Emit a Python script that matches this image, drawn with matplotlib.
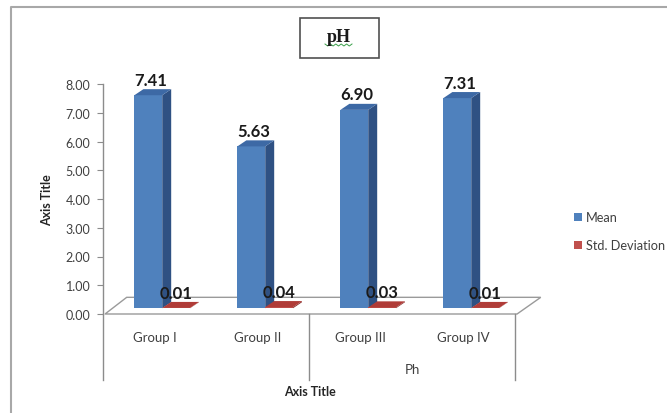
import numpy as np
import matplotlib.pyplot as plt
from matplotlib.patches import Polygon, Rectangle

plt.rcParams['font.family'] = ['Lato', 'DejaVu Sans']

# pH results per group
groups = ["Group I", "Group II", "Group III", "Group IV"]
mean_vals = [7.41, 5.63, 6.90, 7.31]
std_vals = [0.01, 0.04, 0.03, 0.01]
yticks = [0, 1, 2, 3, 4, 5, 6, 7, 8]

W, H = 667, 414
fig = plt.figure(figsize=(W / 100, H / 100), dpi=100)
fig.patch.set_facecolor("white")

def fx(px):
    return px / W

def fy(py):
    return 1 - py / H

# plot region in pixels: x 103..515, y 315 (0) .. 85 (8)
ax = fig.add_axes([fx(103), fy(315), fx(515 - 103), (315 - 85) / H])
ax.set_xlim(0, 4)
ax.set_ylim(0, 8)
ax.set_facecolor("none")
for s in ["top", "right", "bottom"]:
    ax.spines[s].set_visible(False)
ax.spines["left"].set_color("#8c8c8c")
ax.spines["left"].set_linewidth(1.0)
ax.set_yticks(yticks)
ax.set_yticklabels([f"{v:.2f}" for v in yticks])
ax.tick_params(axis="y", colors="#8c8c8c", labelcolor="#404040", labelsize=9,
               length=4, direction="out", pad=5)
ax.set_xticks([])

# floor of the 3D plot
floor = Polygon([(0.02, 0), (0.23, 0.58), (4.25, 0.58), (4.02, 0)], closed=True,
                facecolor="white", edgecolor="#9a9a9a", lw=1.0, clip_on=False, zorder=1)
ax.add_patch(floor)

base = 0.2
bw = 0.27
dx, dy = 0.087, 0.21


def bar3d(x0, h, front, side, top):
    x1 = x0 + bw
    t = base + h
    ax.add_patch(Rectangle((x0, base), bw, h, facecolor=front, edgecolor="none",
                           clip_on=False, zorder=3))
    ax.add_patch(Polygon([(x1, base), (x1 + dx, base + dy), (x1 + dx, t + dy), (x1, t)],
                         closed=True, facecolor=side, edgecolor="none",
                         clip_on=False, zorder=3))
    ax.add_patch(Polygon([(x0, t), (x0 + dx, t + dy), (x1 + dx, t + dy), (x1, t)],
                         closed=True, facecolor=top, edgecolor="none",
                         clip_on=False, zorder=3))


for i, (m, s) in enumerate(zip(mean_vals, std_vals)):
    xb = i + 0.305
    xr = xb + bw
    bar3d(xb, m, "#4f81bd", "#2f5183", "#3d69a5")
    bar3d(xr, s, "#c0504d", "#8a2f2c", "#b03c38")
    ax.annotate(f"{m:.2f}", (xb + bw / 2 + 0.02, base + m + dy), xytext=(0, 1),
                textcoords="offset points", ha="center", va="bottom",
                fontsize=12, fontweight="bold", color="#1a1a1a", zorder=5,
                annotation_clip=False)
    ax.annotate(f"{s:.2f}", (xr + bw / 2, base + s + dy), xytext=(0, 1),
                textcoords="offset points", ha="center", va="bottom",
                fontsize=12, fontweight="bold", color="#1a1a1a", zorder=5,
                annotation_clip=False)

# category axis below the floor
ax_col = "#8c8c8c"
for xv in [0, 2, 4]:
    ax.plot([xv, xv], [0, -2.3], color=ax_col, lw=1.0, clip_on=False, zorder=2)
for i, g in enumerate(groups):
    ax.text(i + 0.5, -0.8, g, ha="center", va="center", fontsize=9.5,
            color="#404040", clip_on=False)
ax.text(3.0, -1.9, "Ph", ha="center", va="center", fontsize=9.5, color="#404040")

fig.text(fx(310), fy(392), "Axis Title", ha="center", va="center", fontsize=9,
         fontweight="bold", color="#262626")
fig.text(fx(47), fy(200), "Axis Title", ha="center", va="center", fontsize=9,
         fontweight="bold", color="#262626", rotation=90)

# title box
fig.patches.append(Rectangle((fx(300), fy(59)), fx(79), 40 / H, transform=fig.transFigure,
                             facecolor="white", edgecolor="#505050", lw=1.2))
fig.text(fx(339), fy(38), "pH", ha="center", va="center", fontsize=13,
         fontweight="bold", family="Liberation Serif", color="#1a1a1a")
sq_x = np.linspace(325, 352, 11)
sq_y = np.where(np.arange(11) % 2 == 0, 45, 47)
fig.lines.append(plt.Line2D(fx(sq_x), fy(sq_y), transform=fig.transFigure,
                            color="#3aa04a", lw=0.7))

# legend
fig.patches.append(Rectangle((fx(574), fy(222)), fx(8), 8 / H, transform=fig.transFigure,
                             facecolor="#4f81bd", edgecolor="none"))
fig.text(fx(586), fy(218), "Mean", ha="left", va="center", fontsize=9.2, color="#404040")
fig.patches.append(Rectangle((fx(574), fy(250)), fx(8), 8 / H, transform=fig.transFigure,
                             facecolor="#c0504d", edgecolor="none"))
fig.text(fx(586), fy(246), "Std. Deviation", ha="left", va="center", fontsize=9.2,
         color="#404040")

# outer chart border (only left and top edges fall inside the image)
fig.lines.append(plt.Line2D([fx(11), fx(11), fx(700)], [fy(430), fy(8), fy(8)],
                            transform=fig.transFigure, color="#a8a8a8", lw=1.5))

fig.savefig("out.png", dpi=100)
